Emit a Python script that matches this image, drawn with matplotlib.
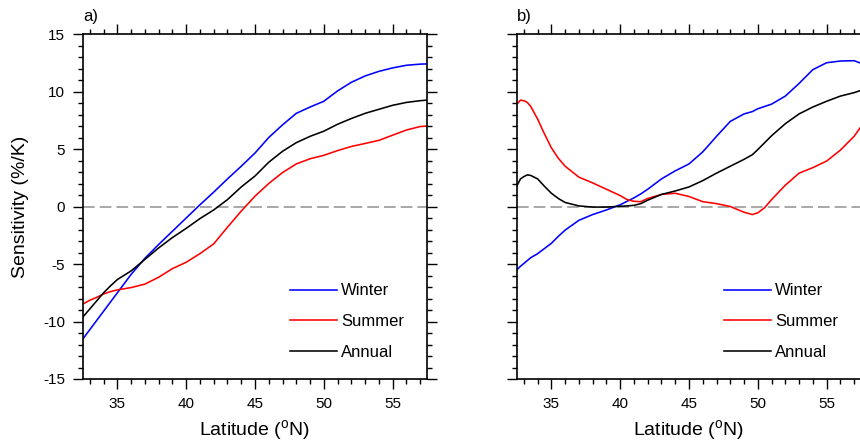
import numpy as np
import matplotlib
matplotlib.use('Agg')
import matplotlib.pyplot as plt
from matplotlib.ticker import MultipleLocator

plt.rcParams['font.family'] = ['Liberation Sans', 'DejaVu Sans']
plt.rcParams['axes.unicode_minus'] = False

# latitude grids (deg N)
lat_a = [32.5, 33, 33.5, 34, 34.5, 35, 36, 37, 38, 39, 40, 41, 42, 43, 44, 45,
         46, 47, 48, 49, 50, 51, 52, 53, 54, 55, 56, 57, 57.5]
lat_b = [32.5, 32.75, 33, 33.25, 33.5, 34, 34.5, 35, 35.5, 36, 37, 38, 39, 40,
         40.5, 41, 41.5, 42, 43, 44, 45, 46, 47, 48, 49, 49.6, 50, 50.5, 51,
         52, 53, 54, 55, 56, 57, 57.5]

# a) sensitivity (%/K)
win_a = [-11.5, -10.7, -9.9, -9.1, -8.3, -7.5, -5.9, -4.5, -3.3, -2.15, -1.0,
         0.15, 1.25, 2.4, 3.5, 4.65, 6.0, 7.1, 8.1, 8.65, 9.15, 10.05, 10.8,
         11.35, 11.75, 12.05, 12.28, 12.38, 12.4]
sum_a = [-8.48, -8.15, -7.9, -7.6, -7.4, -7.25, -7.05, -6.75, -6.15, -5.4,
         -4.85, -4.1, -3.25, -1.8, -0.4, 0.9, 2.0, 2.95, 3.7, 4.15, 4.45, 4.86,
         5.22, 5.48, 5.75, 6.2, 6.65, 6.95, 7.0]
ann_a = [-9.6, -8.9, -8.2, -7.5, -6.9, -6.35, -5.6, -4.6, -3.6, -2.7, -1.9,
         -1.05, -0.3, 0.6, 1.7, 2.65, 3.85, 4.8, 5.55, 6.1, 6.55, 7.15, 7.65,
         8.1, 8.45, 8.8, 9.05, 9.2, 9.25]

# b) sensitivity (%/K)
win_b = [-5.5, -5.2, -4.95, -4.7, -4.45, -4.1, -3.65, -3.2, -2.6, -2.05, -1.2,
         -0.7, -0.3, 0.15, 0.45, 0.75, 1.1, 1.5, 2.4, 3.1, 3.7, 4.75, 6.1, 7.4,
         8.05, 8.25, 8.5, 8.7, 8.9, 9.6, 10.7, 11.9, 12.5, 12.65, 12.68, 12.45]
sum_b = [8.9, 9.25, 9.2, 9.05, 8.7, 7.6, 6.3, 5.1, 4.2, 3.5, 2.55, 2.05, 1.5,
         0.95, 0.6, 0.45, 0.42, 0.7, 1.05, 1.15, 0.87, 0.42, 0.25, 0.0, -0.5,
         -0.7, -0.55, -0.1, 0.6, 1.85, 2.9, 3.38, 3.95, 4.9, 6.1, 6.95]
ann_b = [1.8, 2.4, 2.6, 2.75, 2.7, 2.4, 1.75, 1.15, 0.7, 0.35, 0.05, -0.05,
         -0.05, 0.02, 0.05, 0.1, 0.25, 0.55, 1.05, 1.35, 1.7, 2.25, 2.9, 3.5,
         4.1, 4.5, 4.95, 5.55, 6.15, 7.2, 8.05, 8.65, 9.15, 9.6, 9.9, 10.1]

panels = [('a)', lat_a, win_a, sum_a, ann_a),
          ('b)', lat_b, win_b, sum_b, ann_b)]

fig = plt.figure(figsize=(8.6, 4.43), dpi=100)
lefts = [83/860, 517/860]

for i, (tag, lat, w, s, a) in enumerate(panels):
    ax = fig.add_axes([lefts[i], 64/443, 344/860, 345/443])
    ax.axhline(0, color='#a8a8a8', lw=1.4, ls=(0, (6, 2.6)), zorder=1)
    ax.plot(lat, w, color='#0000ff', lw=1.15, label='Winter')
    ax.plot(lat, s, color='#ff0000', lw=1.15, label='Summer')
    ax.plot(lat, a, color='black', lw=1.15, label='Annual')

    ax.set_xlim(32.5, 57.5)
    ax.set_ylim(-15, 15)
    ax.xaxis.set_major_locator(MultipleLocator(5))
    ax.xaxis.set_minor_locator(MultipleLocator(1))
    ax.yaxis.set_major_locator(MultipleLocator(5))
    ax.yaxis.set_minor_locator(MultipleLocator(1))
    ax.tick_params(which='both', direction='out', top=True, right=True,
                   labelsize=11, pad=6, width=1.0)
    ax.tick_params(which='major', length=7)
    ax.tick_params(which='minor', length=3.5)
    for sp in ax.spines.values():
        sp.set_linewidth(1.2)

    ax.set_xlabel(r'Latitude ($^\mathregular{o}$N)', fontsize=14)
    ax.xaxis.set_label_coords(0.5, -0.115)
    if i == 0:
        ax.set_ylabel('Sensitivity (%/K)', fontsize=14)
        ax.yaxis.set_label_coords(-0.157, 0.5)
    else:
        ax.tick_params(labelleft=False)

    ax.text(0.0, 1.038, tag, transform=ax.transAxes, fontsize=12,
            ha='left', va='baseline')

    ax.legend(loc='upper left', bbox_to_anchor=(0.602, 0.277), frameon=False,
              fontsize=12, handlelength=2.82, handletextpad=0.25,
              labelspacing=0.95, borderpad=0, borderaxespad=0)

fig.savefig('out.png', dpi=100)
